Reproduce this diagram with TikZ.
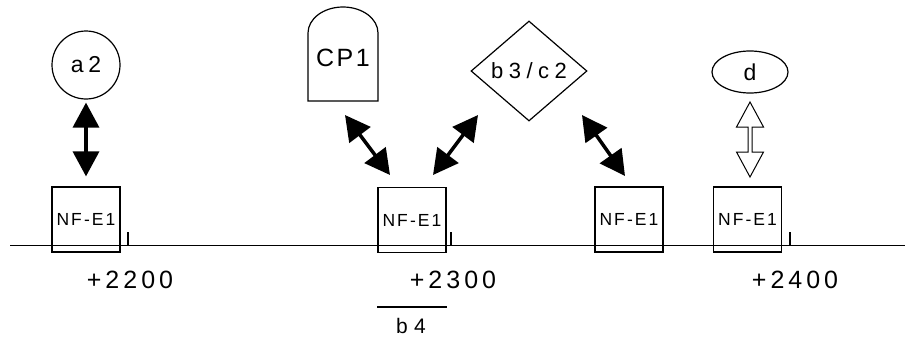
\documentclass[tikz,border=0pt]{standalone}
\usepackage{fontspec}
\setmainfont{Liberation Sans}
\usepackage{tikz}
\usetikzlibrary{shapes.geometric}
\usetikzlibrary{arrows.meta}
\tikzset{>=stealth}
\tikzset{nfbox/.style={draw, minimum width=68pt, minimum height=65pt, inner sep=0pt,
    font=\fontsize{17.5}{17.5}\selectfont\addfontfeatures{LetterSpace=12}},
  bigarrow/.style={line width=3.5pt,
    {Triangle[length=25pt,width=26pt]}-{Triangle[length=25pt,width=26pt]}},
  station/.style={font=\fontsize{25}{25}\selectfont\addfontfeatures{LetterSpace=16}},
  tag/.style={font=\fontsize{23}{23}\selectfont\addfontfeatures{LetterSpace=20}}}

\begin{document}
\begin{tikzpicture}[x=1pt, y=-1pt, line width=1.2pt]
\useasboundingbox (0,0) rectangle (909,340);
\draw (10,245.5) -- (905,245.5);
\foreach \x in {128,451,790}
  \draw (\x,232) -- (\x,245.5);
\node[nfbox] (nf1) at (86,219.5) {NF-E1};
\node[nfbox] (nf2) at (412,220) {NF-E1};
\node[nfbox] (nf3) at (629,219.5) {NF-E1};
\node[nfbox] (nf4) at (747.5,219.5) {NF-E1};
\node[station] (s22) at (130,280) {+2200};
\node[station] (s23) at (453,280) {+2300};
\node[station] (s24) at (795,280) {+2400};
\draw[line width=2pt] (377,307) -- (447,307);
\node[tag, font=\fontsize{21}{21}\selectfont\addfontfeatures{LetterSpace=30}] (b4) at (411,326) {b4};
\node[tag, circle, draw, minimum size=68pt, inner sep=0pt] (a2) at (86,65) {a2};
\node[tag, font=\fontsize{25}{25}\selectfont\addfontfeatures{LetterSpace=10}] (cp1) at (343,58) {CP1};
\draw (308,101) -- (308,33) arc[start angle=180, end angle=360, x radius=35, y radius=26] -- (378,101) -- cycle;
\node[tag, diamond, draw, minimum width=116pt, minimum height=100pt, inner sep=0pt,
  font=\fontsize{22}{22}\selectfont\addfontfeatures{LetterSpace=25}] (b3) at (529,71) {b3/c2};
\node[tag, ellipse, draw, minimum width=76pt, minimum height=42pt, inner sep=0pt] (d) at (750,72) {d};
\draw[bigarrow, shorten <=3pt, shorten >=10pt] (a2) -- (nf1);
\coordinate (cp1e) at (345,115);
\coordinate (nf2w) at (390,175);
\coordinate (b3w) at (478,115);
\coordinate (nf2e) at (433,175);
\coordinate (b3e) at (582,115);
\coordinate (nf3w) at (625,176);
\draw[bigarrow] (cp1e) -- (nf2w);
\draw[bigarrow] (b3w) -- (nf2e);
\draw[bigarrow] (b3e) -- (nf3w);
\coordinate (dtip) at (750,102);
\draw[line width=1pt] (dtip) -- ++(13.5,25) -- ++(-11.5,0) -- ++(0,25) -- ++(11.5,0)
  -- ++(-13.5,25) -- ++(-13.5,-25) -- ++(11.5,0) -- ++(0,-25) -- ++(-11.5,0) -- cycle;
\end{tikzpicture}
\end{document}
